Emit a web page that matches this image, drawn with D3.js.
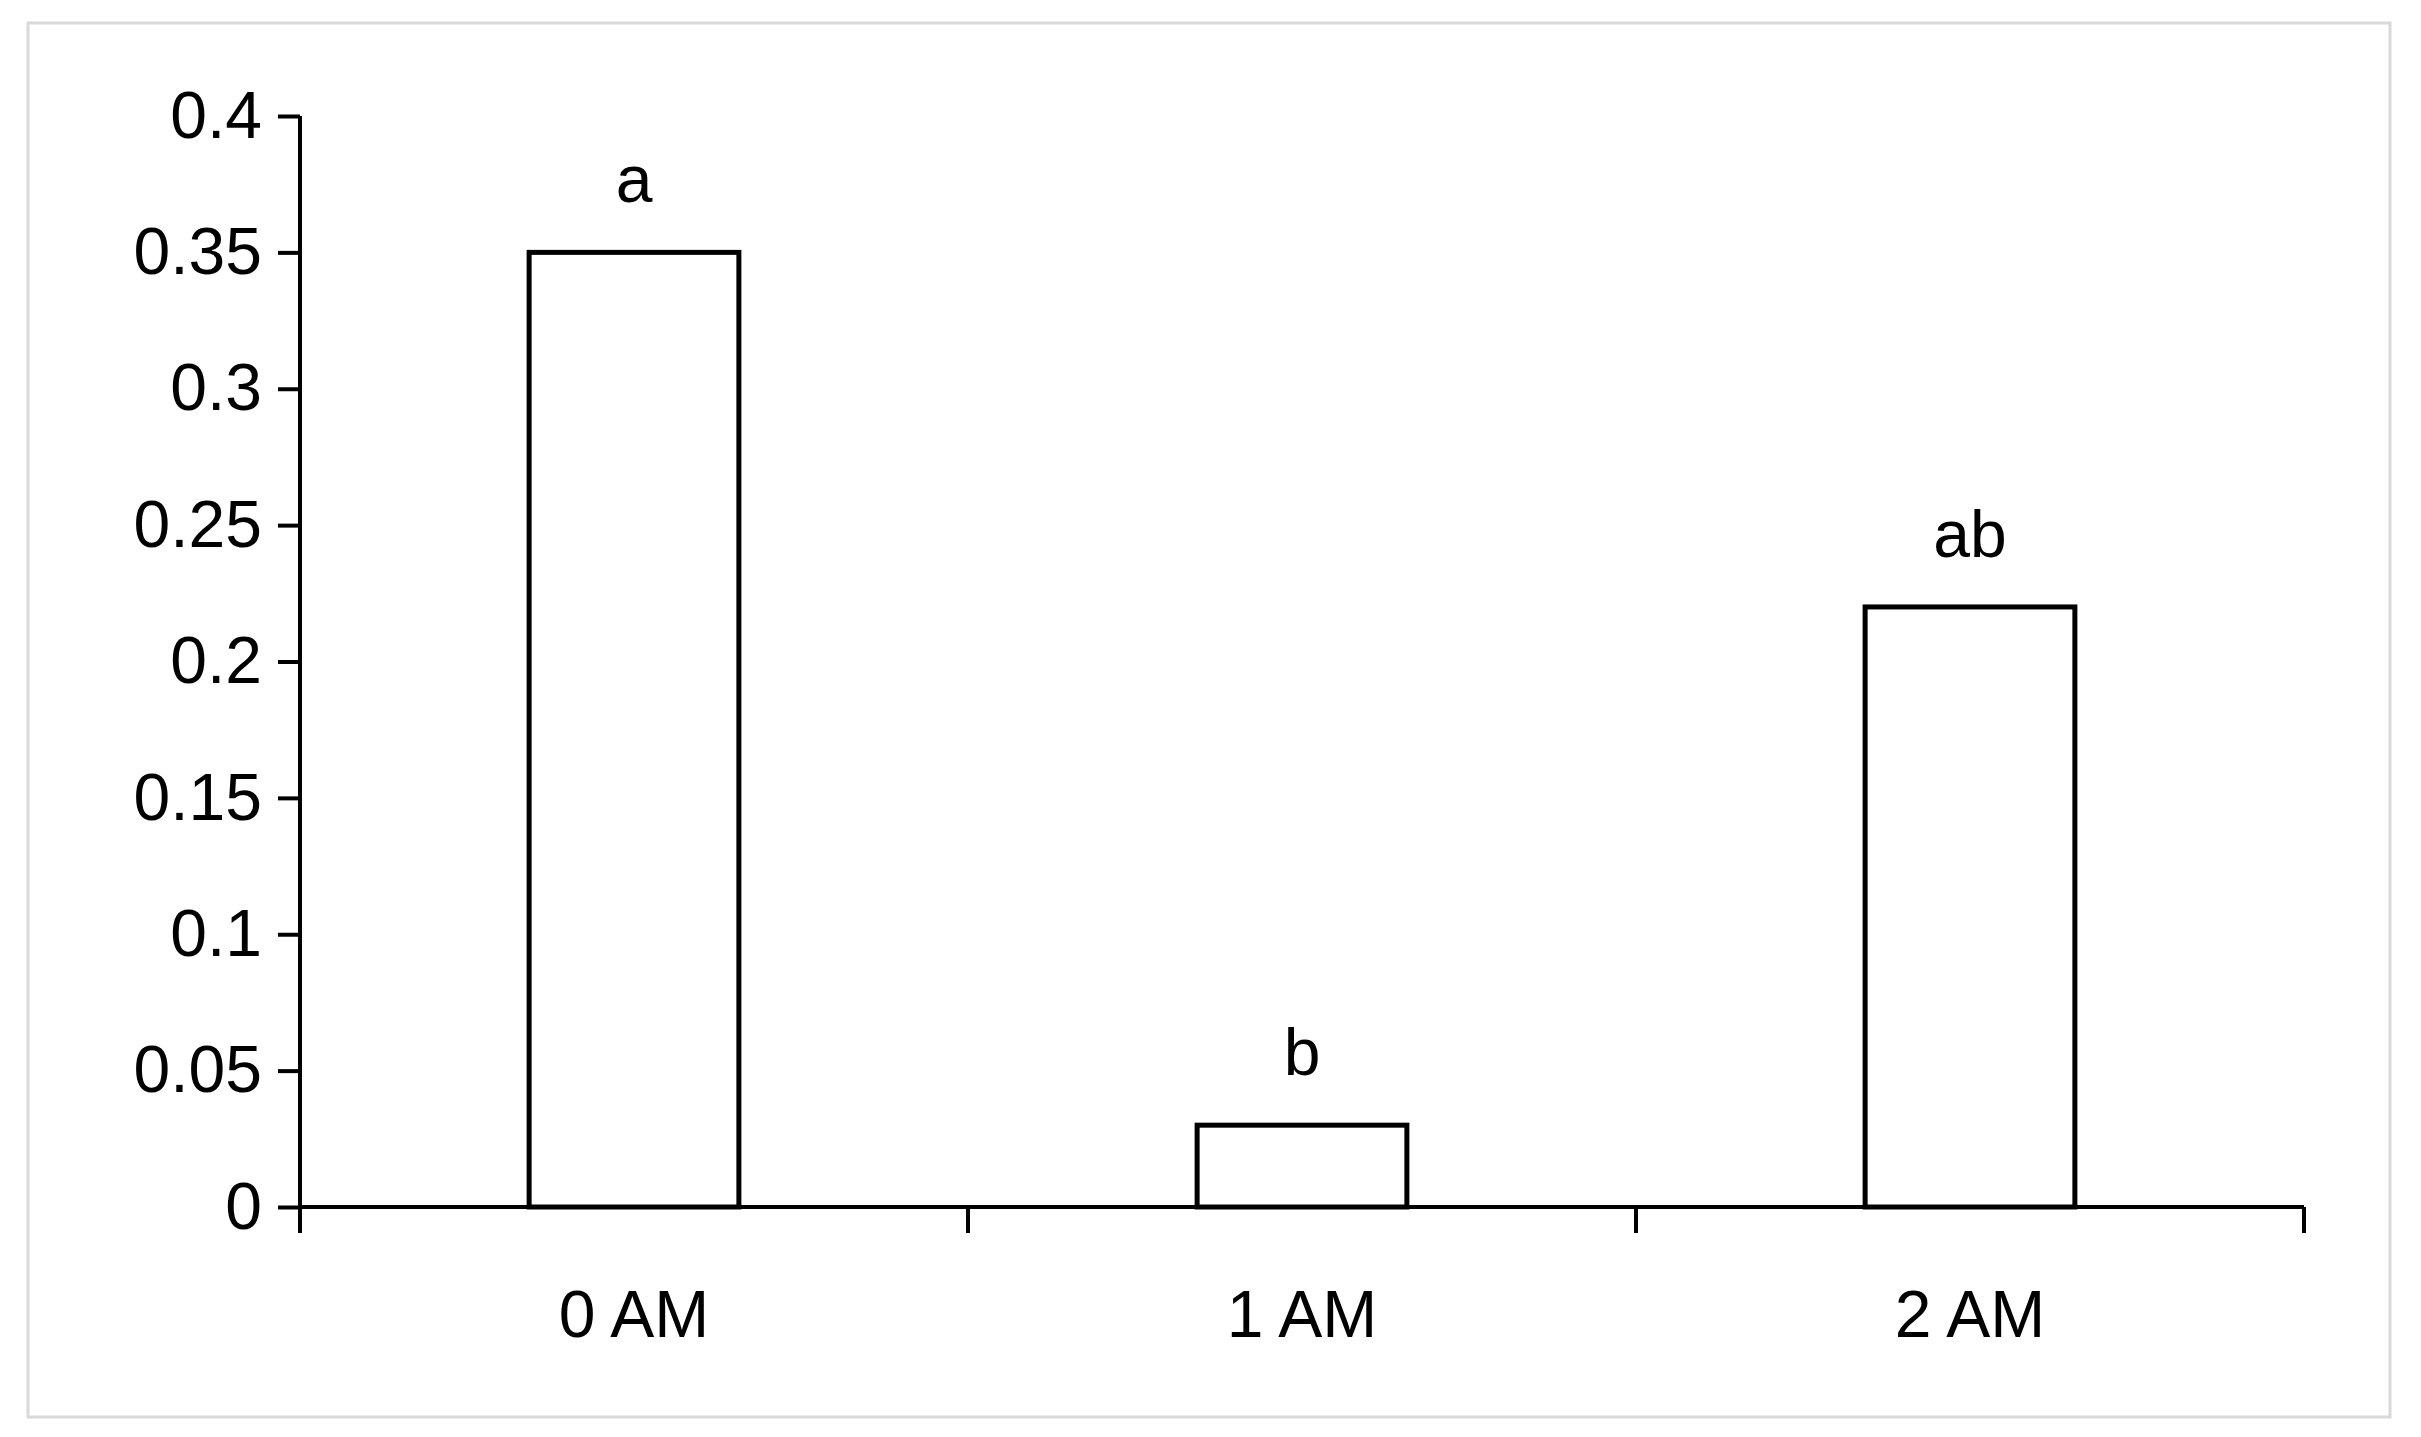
<!DOCTYPE html>
<html><head><meta charset="utf-8">
<script src="https://cdn.jsdelivr.net/npm/d3@7"></script>
<style>body{margin:0;background:#fff}</style>
</head><body>
<div id="chart"></div>
<script>
var categories = ["0 AM", "1 AM", "2 AM"];
var values = [0.35, 0.03, 0.22];
var letters = ["a", "b", "ab"];
var yTicks = [0, 0.05, 0.1, 0.15, 0.2, 0.25, 0.3, 0.35, 0.4];

var svgWidth = 2421, svgHeight = 1437;
var margin = {top: 116, right: 117, bottom: 230, left: 300};
var width = svgWidth - margin.left - margin.right;
var height = svgHeight - margin.top - margin.bottom;

var svg = d3.select("#chart").append("svg")
  .attr("width", svgWidth).attr("height", svgHeight);

svg.append("rect").attr("x", 28).attr("y", 23)
  .attr("width", 2362).attr("height", 1394)
  .attr("fill", "white").attr("stroke", "#d9d9d9").attr("stroke-width", 3);

var g = svg.append("g").attr("transform", `translate(${margin.left},${margin.top})`);

var x = d3.scaleBand().domain(categories).range([0, width]).paddingInner(0.686).paddingOuter(0.343);
var y = d3.scaleLinear().domain([0, 0.4]).range([height, 0]);

g.selectAll("rect.bar").data(values).enter().append("rect")
  .attr("class", "bar")
  .attr("x", (d, i) => x(categories[i]))
  .attr("y", d => y(d))
  .attr("width", x.bandwidth())
  .attr("height", d => height - y(d))
  .attr("fill", "white").attr("stroke", "black").attr("stroke-width", 5);

g.selectAll("text.lbl").data(values).enter().append("text")
  .attr("x", (d, i) => x(categories[i]) + x.bandwidth() / 2)
  .attr("y", d => y(d) - 50)
  .attr("text-anchor", "middle")
  .attr("font-family", "Liberation Sans, Arial, sans-serif")
  .attr("font-size", 66)
  .text((d, i) => letters[i]);

var yAxis = g.append("g").call(d3.axisLeft(y).tickValues(yTicks).tickSize(22).tickPadding(16).tickFormat(d => String(d)));
yAxis.select(".domain").attr("stroke-width", 4).attr("d", `M0,${height}V0`);
yAxis.selectAll(".tick line").attr("stroke-width", 4);
yAxis.selectAll("text").attr("font-family", "Liberation Sans, Arial, sans-serif").attr("font-size", 66).attr("fill", "black");

var xb = g.append("g").attr("transform", `translate(0,${height})`);
xb.append("line").attr("x1", 0).attr("x2", width).attr("stroke", "black").attr("stroke-width", 4);
var step = x.step();
xb.selectAll("line.tk").data(d3.range(categories.length + 1)).enter().append("line")
  .attr("x1", i => i * width / categories.length).attr("x2", i => i * width / categories.length)
  .attr("y1", 0).attr("y2", 26).attr("stroke", "black").attr("stroke-width", 4);
xb.selectAll("text").data(categories).enter().append("text")
  .attr("x", d => x(d) + x.bandwidth() / 2)
  .attr("y", 130)
  .attr("text-anchor", "middle")
  .attr("font-family", "Liberation Sans, Arial, sans-serif")
  .attr("font-size", 66)
  .text(d => d);
</script>
</body></html>
